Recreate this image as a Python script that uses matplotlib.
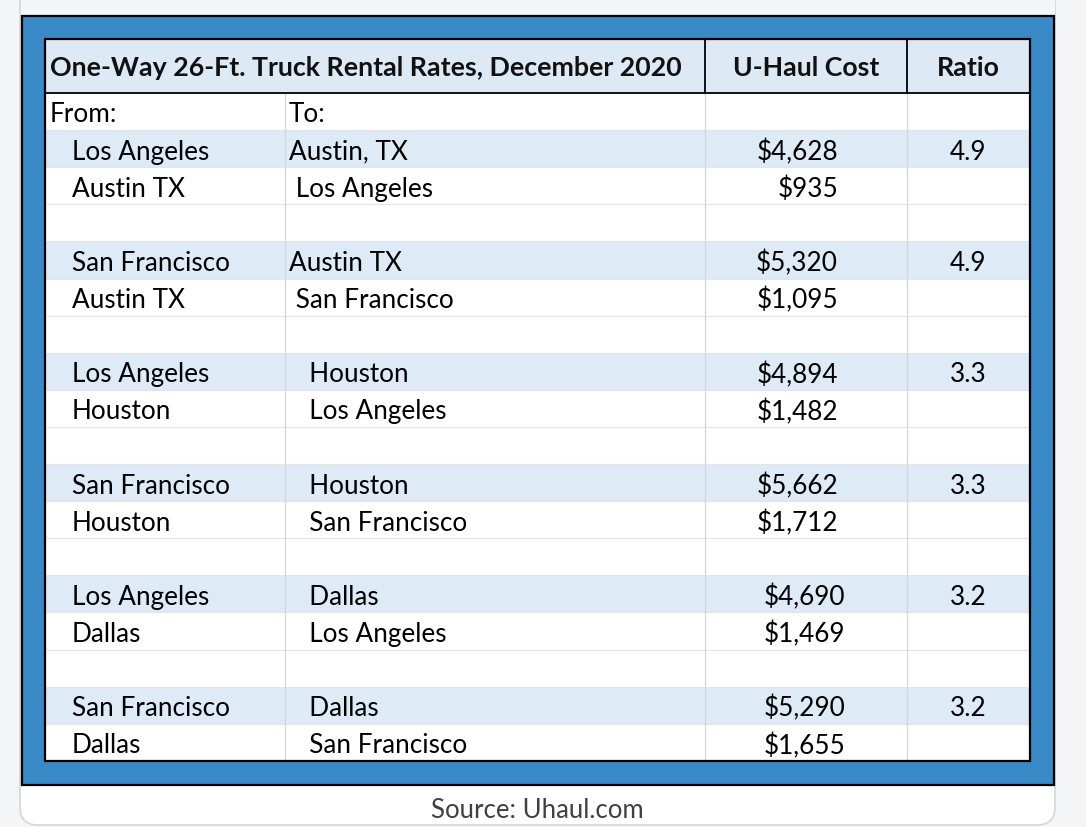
import matplotlib
matplotlib.use("Agg")
import matplotlib.pyplot as plt
from matplotlib.patches import Rectangle, FancyBboxPatch

# table content
title = "One-Way 26-Ft. Truck Rental Rates, December 2020"
col_heads = ["U-Haul Cost", "Ratio"]
origins = ["Los Angeles", "Austin TX", "San Francisco", "Austin TX",
           "Los Angeles", "Houston", "San Francisco", "Houston",
           "Los Angeles", "Dallas", "San Francisco", "Dallas"]
dests = ["Austin, TX", " Los Angeles", "Austin TX", " San Francisco",
         "   Houston", "   Los Angeles", "   Houston", "   San Francisco",
         "   Dallas", "   Los Angeles", "   Dallas", "   San Francisco"]
costs = [4628, 935, 5320, 1095, 4894, 1482, 5662, 1712, 4690, 1469, 5290, 1655]
ratios = ["4.9", "", "4.9", "", "3.3", "", "3.3", "", "3.2", "", "3.2", ""]
source = "Source: Uhaul.com"

plt.rcParams['font.family'] = ['Lato', 'DejaVu Sans']

W, H = 1086, 828
fig = plt.figure(figsize=(W / 100, H / 100), dpi=100, facecolor='#f4f5f7')
ax = fig.add_axes([0, 0, 1, 1])
ax.set_xlim(0, W)
ax.set_ylim(H, 0)
ax.axis('off')

# card and blue frame
ax.add_patch(FancyBboxPatch((20, -30), 1035, 856, boxstyle="round,pad=0,rounding_size=18",
                            fc='white', ec='#d3d6da', lw=1.2))
ax.add_patch(Rectangle((20.5, -1), 1034, 18, fc='#f4f5f7', ec='none'))
ax.add_patch(Rectangle((22, 17), 1032, 769, fc='#3a8ac8', ec='black', lw=1.6))

# table geometry
left, right = 45, 1030
top, head_h = 40, 54
row_h = 37.1
cols = [45, 285, 705, 907, 1030]

n_rows = 1 + len(origins) + (len(origins) // 2 - 1)
bottom = top + head_h + n_rows * row_h
ax.add_patch(Rectangle((left, top), right - left, bottom - top, fc='white', ec='none'))
ax.add_patch(Rectangle((left, top), right - left, head_h, fc='#dde9f5', ec='none'))

# map data rows onto table rows (blank spacer between pairs)
row_of = []
r = 1
for i in range(len(origins)):
    row_of.append(r)
    r += 1
    if i % 2 == 1:
        r += 1

def ry(k):
    return top + head_h + k * row_h

for i, k in enumerate(row_of):
    if i % 2 == 0:
        ax.add_patch(Rectangle((left, ry(k)), right - left, row_h, fc='#deeaf6', ec='none'))

for k in range(1, n_rows):
    ax.plot([left, right], [ry(k), ry(k)], color='#e2e4e6', lw=0.8, zorder=2)
for x in cols[1:4]:
    ax.plot([x, x], [top + head_h, bottom], color='#d4d6d8', lw=0.9, zorder=2)
for x in cols[2:4]:
    ax.plot([x, x], [top, top + head_h], color='black', lw=1.3, zorder=3)
ax.plot([left, right], [top + head_h, top + head_h], color='black', lw=1.3, zorder=3)
ax.add_patch(Rectangle((left, top), right - left, bottom - top, fc='none', ec='black', lw=1.6, zorder=4))

fs = 18.8
hfs = 19.3
hy = top + head_h / 2 + 1
ax.text(50, hy, title, fontsize=hfs, fontweight='bold', va='center', ha='left', color='#111111')
ax.text((cols[2] + cols[3]) / 2, hy, col_heads[0], fontsize=hfs, fontweight='bold',
        va='center', ha='center', color='#111111')
ax.text((cols[3] + cols[4]) / 2, hy, col_heads[1], fontsize=hfs, fontweight='bold',
        va='center', ha='center', color='#111111')

ax.text(50, ry(0) + row_h / 2 + 2, "From:", fontsize=fs, va='center', ha='left')
ax.text(289, ry(0) + row_h / 2 + 2, "To:", fontsize=fs, va='center', ha='left')

for i, k in enumerate(row_of):
    yc = ry(k) + row_h / 2 + 2.5
    ax.text(72, yc, origins[i], fontsize=fs, va='center', ha='left')
    ax.text(289, yc, dests[i], fontsize=fs, va='center', ha='left')
    ax.text(838 if i < 8 else 845, yc, "${:,}".format(costs[i]), fontsize=fs, va='center', ha='right')
    ax.text(968, yc, ratios[i], fontsize=fs, va='center', ha='center')

ax.text(537, 811, source, fontsize=18.5, va='center', ha='center', color='#404040')

fig.savefig("out.png", dpi=100, facecolor=fig.get_facecolor())
